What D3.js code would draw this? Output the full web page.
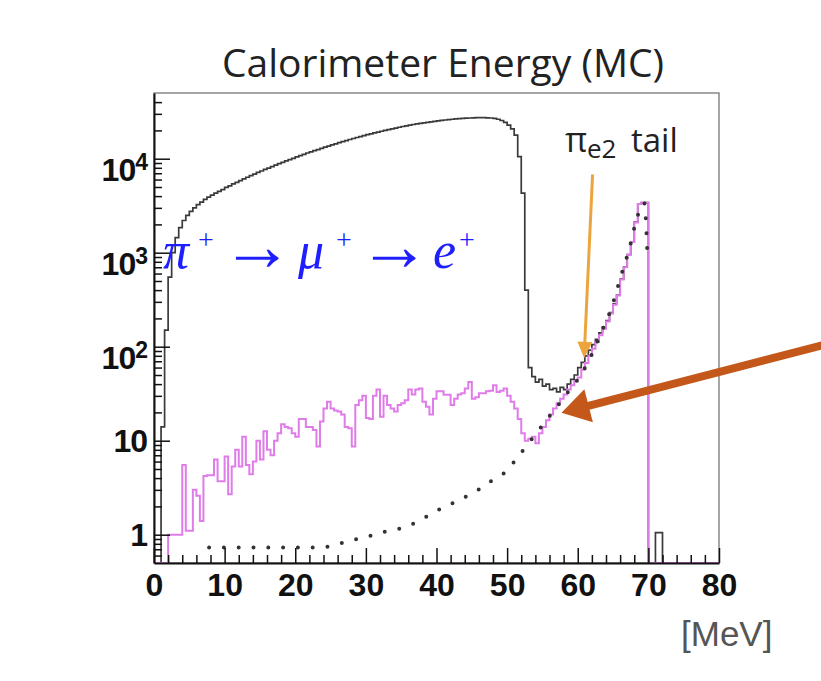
<!DOCTYPE html>
<html>
<head>
<meta charset="utf-8">
<script src="https://cdn.jsdelivr.net/npm/d3@7"></script>
<style>
body { margin: 0; background: #fff; }
svg { display: block; }
</style>
</head>
<body>
<div id="chart"></div>
<script>
// histogram bins: 0.5 MeV wide, starting at 0 MeV
var binWidth = 0.5;

// all events (black)
var allCounts = [
  0, 0, 14, 150, 550, 1000, 1450, 1850, 2200, 2500,
  2750, 3000, 3250, 3450, 3700, 3900, 4100, 4300, 4500, 4700,
  4950, 5150, 5400, 5600, 5850, 6100, 6350, 6600, 6850, 7150,
  7400, 7700, 7950, 8250, 8550, 8850, 9150, 9500, 9800, 10100,
  10450, 10800, 11100, 11500, 11800, 12200, 12500, 12900, 13300, 13600,
  14000, 14400, 14800, 15200, 15600, 16000, 16400, 16800, 17200, 17600,
  18000, 18400, 18800, 19200, 19600, 20000, 20400, 20800, 21200, 21600,
  22000, 22400, 22800, 23100, 23500, 23800, 24100, 24400, 24700, 25000,
  25300, 25600, 25800, 26100, 26300, 26500, 26700, 26800, 27000, 27100,
  27200, 27300, 27300, 27300, 27200, 27100, 26800, 26300, 25500, 24300,
  22800, 20800, 17800, 10500, 4300, 400, 60, 48, 42, 45,
  38, 40, 35, 36, 33, 37, 35, 40, 45, 50,
  60, 68, 80, 92, 105, 120, 140, 162, 190, 230,
  285, 355, 525, 705, 955, 1305, 2110, 3310, 3410, 3410,
  0, 0, 1.05, 1.05, 0, 0, 0, 0, 0, 0,
  0, 0, 0, 0, 0, 0, 0, 0, 0, 0
];

// pi -> e nu selected events (magenta)
var pie2Counts = [
  0, 0, 0, 0, 1, 1, 1, 1, 5.5, 1.1,
  1.1, 3.0, 2.6, 1.4, 4.2, 4.3, 4.3, 6.3, 3.7, 3.7,
  6.8, 2.7, 5.3, 8.0, 5.3, 11, 5.5, 4.4, 6, 10,
  6.3, 12.6, 8, 7, 10, 12, 15, 14, 13.6, 12,
  11, 17, 17, 14, 14, 13, 8.7, 16, 22, 26,
  22, 21, 20.5, 19, 14, 13.6, 8.7, 24, 27, 30,
  17.4, 17, 30, 35, 18, 30, 24, 22, 20.5, 24,
  25, 27, 35, 31, 35, 36, 26, 23, 19, 28,
  33.5, 33.5, 30.8, 30.8, 24, 28, 31, 32, 36, 42,
  28, 29, 32, 32, 33.5, 34, 39, 33, 34, 36,
  30, 26, 22, 17, 12, 10, 10.5, 11, 9.4, 12,
  14, 16.5, 19, 22, 25, 28, 31, 35, 39, 43,
  47, 57, 67, 80, 95, 112, 132, 155, 185, 225,
  280, 350, 520, 700, 950, 1300, 2100, 3300, 3400, 3400,
  0, 0, 0, 0, 0, 0, 0, 0, 0, 0,
  0, 0, 0, 0, 0, 0, 0, 0, 0, 0
];

// pi_e2 tail function (dotted)
var tailEnergy = [7.8, 10, 14, 18, 22, 24.5, 26.7, 28.7, 30.7, 32.8, 34.8, 36.7, 38.7, 40.6, 42.4, 44.4,
  46.4, 48.2, 50, 51.3, 52.7, 54.1, 55.5, 56.9, 58.5, 60, 61.4, 63.3, 64.7, 66.1, 67.5, 68.2, 69.0, 69.4, 69.9];
var tailValue = [0.73, 0.73, 0.73, 0.73, 0.73, 0.745, 0.82, 0.9, 0.975, 1.08, 1.16, 1.31, 1.57, 1.89, 2.19, 2.6,
  3.16, 3.94, 4.8, 6.4, 8.7, 11.9, 16.3, 22.2, 32, 45, 67, 140, 250, 560, 1260, 2100, 3100, 3400, 810];

var xTicks = [0, 10, 20, 30, 40, 50, 60, 70, 80];
var yTicks = [1, 10, 100, 1000, 10000];
var yTickBase = ["1", "10", "10", "10", "10"];
var yTickExp = ["", "", "2", "3", "4"];

var margin = {left: 154, top: 93, right: 102, bottom: 118},
    width = 565,
    height = 470;

var svg = d3.select("#chart").append("svg")
    .attr("width", 821)
    .attr("height", 681);

var x = d3.scaleLinear().domain([0, 80]).range([0, width]);
var y = d3.scaleLog().domain([0.5, 50000]).range([height, 0]);

var g = svg.append("g")
    .attr("transform", "translate(" + margin.left + "," + margin.top + ")");

// frame
g.append("rect")
    .attr("width", width).attr("height", height)
    .attr("fill", "none").attr("stroke", "#777").attr("stroke-width", 1.3);

function clampV(v) { return Math.max(v, 0.5); }

function histPoints(counts) {
  var pts = counts.map(function(c, i) { return [i * binWidth, clampV(c)]; });
  pts.push([counts.length * binWidth, clampV(counts[counts.length - 1])]);
  return pts;
}

var histLine = d3.line()
    .x(function(d) { return x(d[0]); })
    .y(function(d) { return y(d[1]); })
    .curve(d3.curveStepAfter);

g.append("path")
    .datum(histPoints(allCounts))
    .attr("d", histLine)
    .attr("fill", "none").attr("stroke", "#3a3a3a").attr("stroke-width", 1.7);

g.append("path")
    .datum(histPoints(pie2Counts))
    .attr("d", histLine)
    .attr("fill", "none").attr("stroke", "#e07ce9").attr("stroke-width", 2);

var tailLine = d3.line()
    .x(function(d) { return x(d[0]); })
    .y(function(d) { return y(d[1]); })
    .curve(d3.curveMonotoneX);

g.append("path")
    .datum(tailEnergy.map(function(e, i) { return [e, tailValue[i]]; }))
    .attr("d", tailLine)
    .attr("fill", "none").attr("stroke", "#333").attr("stroke-width", 4)
    .attr("stroke-linecap", "round").attr("stroke-dasharray", "0 14.8");

// x axis
var xMinor = d3.range(0, 81, 2).filter(function(v) { return v % 10 !== 0; });

g.append("g")
    .attr("transform", "translate(0," + height + ")")
    .call(d3.axisBottom(x).tickValues(xMinor).tickSizeInner(-8).tickSizeOuter(0).tickFormat(""))
    .call(function(s) { s.select(".domain").remove(); })
    .selectAll("line").attr("stroke", "#111").attr("stroke-width", 1.5);

var xAxis = g.append("g")
    .attr("transform", "translate(0," + height + ")")
    .call(d3.axisBottom(x).tickValues(xTicks).tickSizeInner(-15).tickSizeOuter(0).tickPadding(10));
xAxis.select(".domain").attr("stroke", "#111").attr("stroke-width", 2);
xAxis.selectAll("line").attr("stroke", "#111").attr("stroke-width", 1.5);
xAxis.selectAll("text")
    .attr("font-family", "Liberation Sans, Arial, sans-serif")
    .attr("font-weight", "bold").attr("font-size", 32).attr("fill", "#111");

// y axis
var yMinor = [];
[0.1, 1, 10, 100, 1000, 10000].forEach(function(dec) {
  for (var m = 2; m <= 9; m++) {
    var v = dec * m;
    if (v > 0.5 && v < 50000 && yTicks.indexOf(v) < 0) yMinor.push(v);
  }
});

g.append("g")
    .call(d3.axisLeft(y).tickValues(yMinor).tickSizeInner(-8).tickSizeOuter(0).tickFormat(""))
    .call(function(s) { s.select(".domain").remove(); })
    .selectAll("line").attr("stroke", "#111").attr("stroke-width", 1.5);

var yAxis = g.append("g")
    .call(d3.axisLeft(y).tickValues(yTicks).tickSizeInner(-16).tickSizeOuter(0).tickFormat(""));
yAxis.select(".domain").attr("stroke", "#111").attr("stroke-width", 2);
yAxis.selectAll("line").attr("stroke", "#111").attr("stroke-width", 1.5);

yTicks.forEach(function(v, i) {
  var t = g.append("text")
      .attr("x", -7)
      .attr("y", y(v) + (yTickExp[i] ? 22 : 11))
      .attr("text-anchor", "end")
      .attr("font-family", "Liberation Sans, Arial, sans-serif")
      .attr("font-weight", "bold").attr("font-size", 32).attr("fill", "#111")
      .attr("letter-spacing", -1);
  t.append("tspan").text(yTickBase[i]);
  if (yTickExp[i]) {
    t.append("tspan").attr("dy", -11).attr("font-size", 23).text(yTickExp[i]);
  }
});

// title
svg.append("text")
    .attr("x", 443).attr("y", 77)
    .attr("text-anchor", "middle")
    .attr("font-family", "Open Sans, sans-serif")
    .attr("font-size", 39).attr("fill", "#222")
    .text("Calorimeter Energy (MC)");

// unit label
svg.append("text")
    .attr("x", 681).attr("y", 646)
    .attr("font-family", "Liberation Sans, Arial, sans-serif")
    .attr("font-size", 35).attr("fill", "#555")
    .text("[MeV]");

// decay chain label
var chain = svg.append("text")
    .attr("fill", "#1e1eff")
    .attr("font-family", "Liberation Serif, Times New Roman, serif");
[["\u03c0", 163, 268, 52, "italic"],
 ["+", 198, 249, 28, "normal"],
 ["\u2192", 221, 270, 72, "normal"],
 ["\u03bc", 298, 268, 52, "italic"],
 ["+", 336, 249, 28, "normal"],
 ["\u2192", 358, 270, 72, "normal"],
 ["e", 433, 268, 52, "italic"],
 ["+", 459, 249, 28, "normal"]].forEach(function(p) {
  chain.append("tspan").attr("x", p[1]).attr("y", p[2])
      .attr("font-size", p[3]).attr("font-style", p[4]).text(p[0]);
});

// pi_e2 tail label
var tailLabel = svg.append("text")
    .attr("font-family", "Open Sans, sans-serif")
    .attr("fill", "#222");
tailLabel.append("tspan").attr("x", 565).attr("y", 152).attr("font-size", 34).text("\u03c0");
tailLabel.append("tspan").attr("x", 587).attr("y", 158).attr("font-size", 26).text("e2");
tailLabel.append("tspan").attr("x", 631).attr("y", 152).attr("font-size", 33).text("tail");

// arrows
function arrow(x0, y0, x1, y1, color, lw, headLen, headW) {
  var dx = x1 - x0, dy = y1 - y0, len = Math.sqrt(dx * dx + dy * dy);
  var ux = dx / len, uy = dy / len;
  var bx = x1 - ux * headLen, by = y1 - uy * headLen;
  svg.append("line")
      .attr("x1", x0).attr("y1", y0)
      .attr("x2", x1 - ux * headLen * 0.6).attr("y2", y1 - uy * headLen * 0.6)
      .attr("stroke", color).attr("stroke-width", lw);
  svg.append("polygon")
      .attr("points", [[x1, y1], [bx - uy * headW / 2, by + ux * headW / 2], [bx + uy * headW / 2, by - ux * headW / 2]].join(" "))
      .attr("fill", color);
}

arrow(margin.left + x(62.1), margin.top + y(6800), margin.left + x(60.9), margin.top + y(76), "#eca53d", 3, 16, 15);
arrow(margin.left + x(96), margin.top + y(110), margin.left + x(57.7), margin.top + y(19.8), "#c4581a", 8, 28, 34);
</script>
</body>
</html>
